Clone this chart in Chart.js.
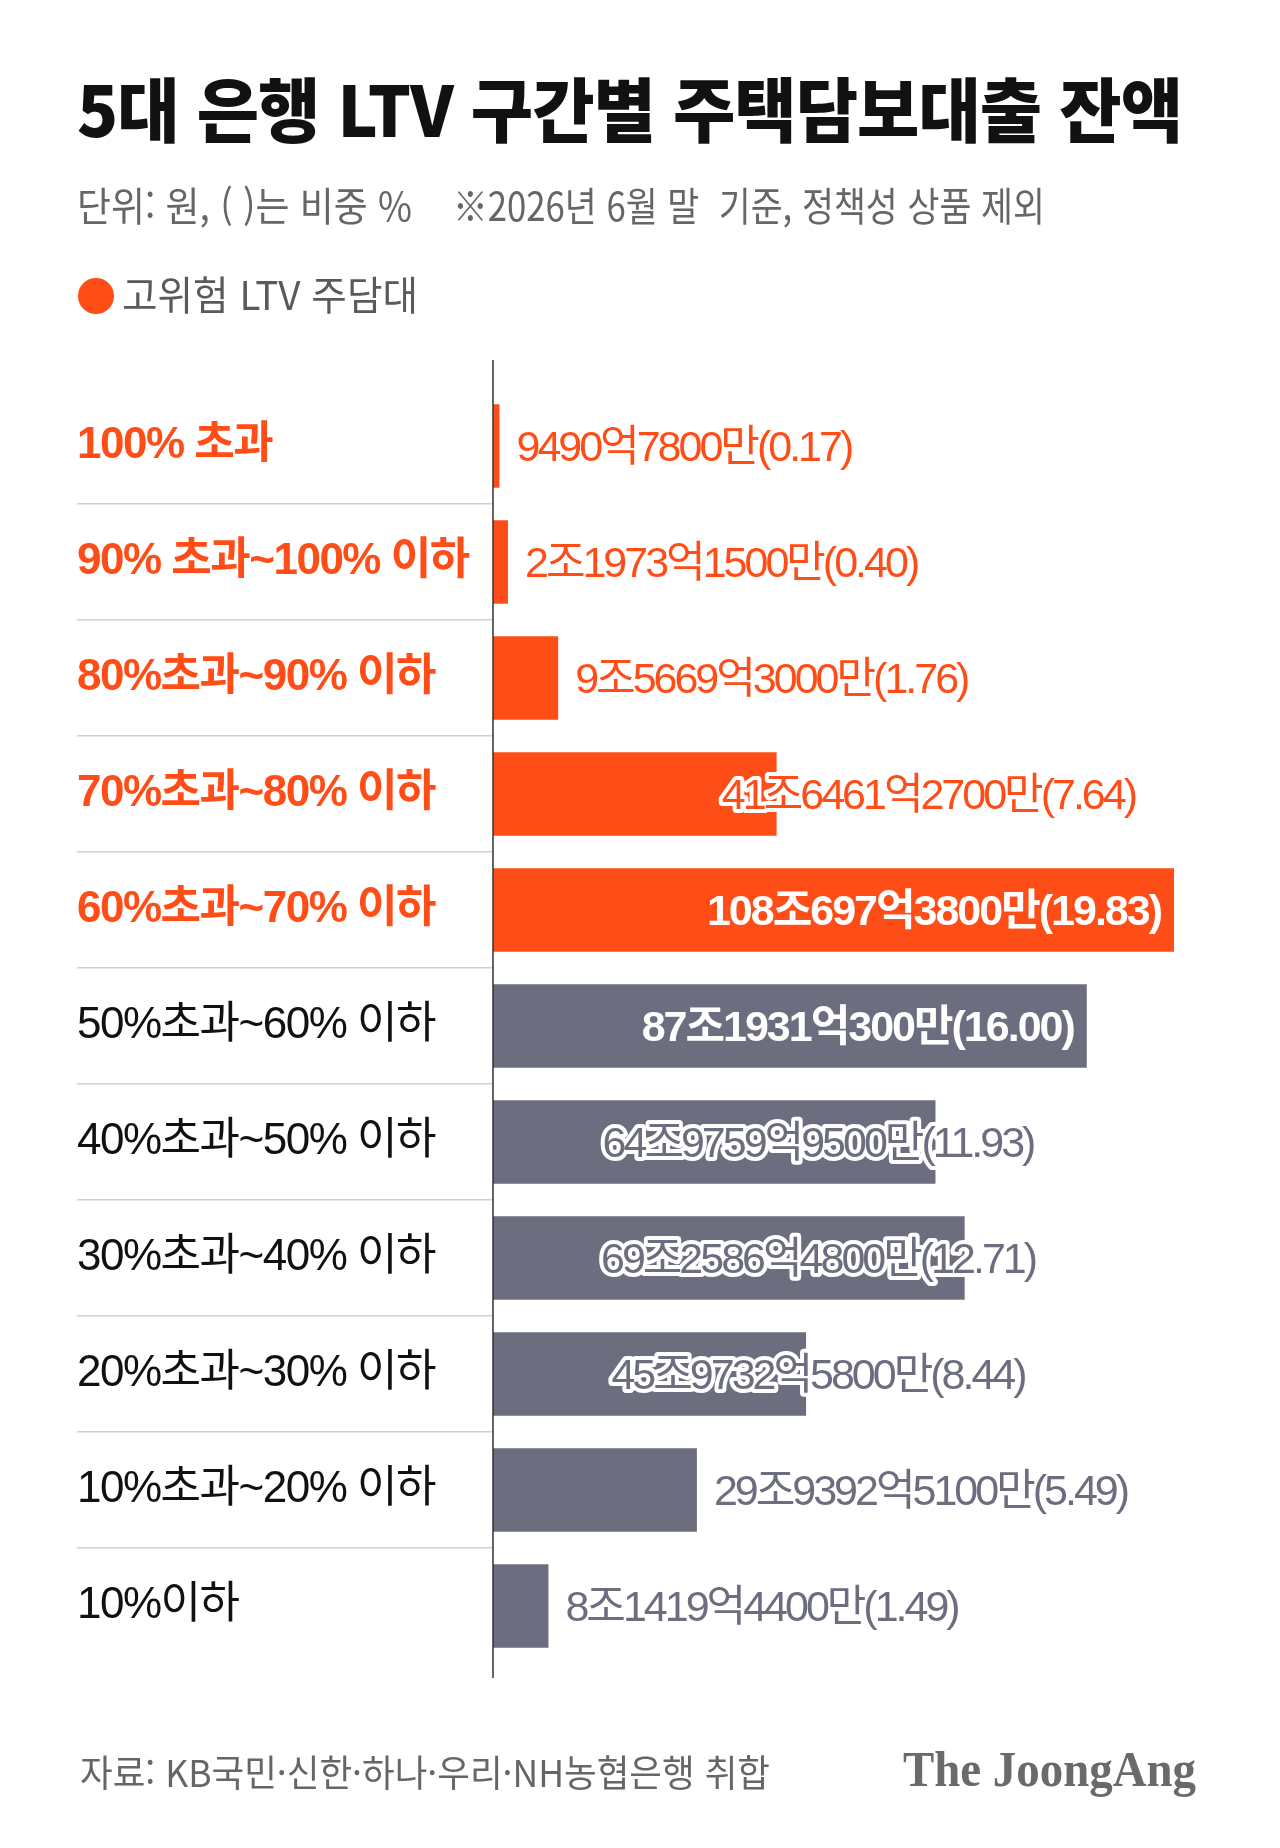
<!DOCTYPE html>
<html lang="ko">
<head>
<meta charset="utf-8">
<title>5대 은행 LTV 구간별 주택담보대출 잔액</title>
<script src="https://cdn.jsdelivr.net/npm/chart.js@4.4.1/dist/chart.umd.min.js"></script>
<style>
  html, body { margin: 0; padding: 0; background: #fff; }
  body { width: 1280px; height: 1848px; position: relative; overflow: hidden;
         font-family: "Noto Sans CJK KR", "Liberation Sans", sans-serif; }
  #wrap { position: absolute; left: 0; top: 0; width: 1280px; height: 1848px; }
  .txt { position: absolute; white-space: nowrap; line-height: 1; transform-origin: left top; }
  #title { left: 77px; top: 72px; font-size: 70px; font-weight: 900; color: #111; letter-spacing: -1px; }
  #sub1 { left: 77px; top: 184px; font-size: 40px; color: #666; }
  #sub2 { left: 453px; top: 184px; font-size: 40px; color: #666; }
  #legDot { position: absolute; left: 78px; top: 278px; width: 36px; height: 36px; border-radius: 50%; background: #ff4d17; }
  #legTxt { left: 122px; top: 273px; font-size: 40px; color: #5a5a5a; }
  #source { left: 80px; top: 1753px; font-size: 37px; color: #666; }
  #logo { left: 903px; top: 1744px; font-size: 51px; font-weight: bold; color: #6a6a6a;
          font-family: "Liberation Serif", "DejaVu Serif", serif; }
</style>
</head>
<body>
<div id="wrap"><canvas id="chart"></canvas></div>
<div class="txt" id="title" data-w="1105">5대 은행 LTV 구간별 주택담보대출 잔액</div>
<div class="txt" id="sub1" data-w="335">단위: 원, ( )는 비중 %</div>
<div class="txt" id="sub2" data-w="592">※2026년 6월 말&nbsp; 기준, 정책성 상품 제외</div>
<div id="legDot"></div>
<div class="txt" id="legTxt" data-w="296">고위험 LTV 주담대</div>
<div class="txt" id="source" data-w="690">자료: KB국민·신한·하나·우리·NH농협은행 취합</div>
<div class="txt" id="logo" data-w="293">The JoongAng</div>

<script>
// LTV 구간
const categories = [
  '100% 초과', '90% 초과~100% 이하', '80%초과~90% 이하', '70%초과~80% 이하',
  '60%초과~70% 이하', '50%초과~60% 이하', '40%초과~50% 이하', '30%초과~40% 이하',
  '20%초과~30% 이하', '10%초과~20% 이하', '10%이하'
];
// 잔액 (만원 단위)
const amountMan = [
  94907800, 219731500, 956693000, 4164612700,
  10806973800, 8719310300, 6497599500, 6925864800,
  4597325800, 2993925100, 814194400
];
// 비중 (%)
const shares = [0.17, 0.40, 1.76, 7.64, 19.83, 16.00, 11.93, 12.71, 8.44, 5.49, 1.49];
// 고위험 LTV 주담대 여부
const highRisk = [true, true, true, true, true, false, false, false, false, false, false];

const ORANGE = '#ff4d17';
const GREY = '#6c6e80';
const FONT = '"Liberation Sans", "Noto Sans CJK KR", sans-serif';

// 조 단위 값 (막대 길이)
const amountJo = amountMan.map(v => v / 1e8);

function fmtAmount(man) {
  const jo = Math.floor(man / 1e8);
  const eok = Math.floor((man % 1e8) / 1e4);
  const m = man % 1e4;
  return (jo ? jo + '조' : '') + (eok ? eok + '억' : '') + (m ? m + '만' : '');
}

// 텍스트 폭 맞추기
document.querySelectorAll('.txt[data-w]').forEach(el => {
  const w = el.getBoundingClientRect().width;
  el.style.transform = `scaleX(${(+el.dataset.w / w).toFixed(4)})`;
});

// ============================
//     라벨 / 축선 플러그인
// ============================

const spacing = {
  id: 'spacing',
  beforeDraw(chart) { chart.ctx.letterSpacing = '-1.5px'; },
  afterDraw(chart) { chart.ctx.letterSpacing = '0px'; }
};

const axisLine = {
  id: 'axisLine',
  afterDatasetsDraw(chart) {
    const { ctx, chartArea } = chart;
    const x = chart.scales.x.getPixelForValue(0);
    ctx.save();
    ctx.strokeStyle = '#333';
    ctx.lineWidth = 1.5;
    ctx.beginPath();
    ctx.moveTo(x, chartArea.top - 28);
    ctx.lineTo(x, chartArea.bottom + 14);
    ctx.stroke();
    ctx.restore();
  }
};

const valueLabels = {
  id: 'valueLabels',
  afterDatasetsDraw(chart) {
    const { ctx, chartArea } = chart;
    const meta = chart.getDatasetMeta(0);
    const limit = 1135;
    meta.data.forEach((bar, i) => {
      const text = fmtAmount(amountMan[i]) + '(' + shares[i].toFixed(2) + ')';
      const color = highRisk[i] ? ORANGE : GREY;
      const end = Math.min(bar.x, chartArea.right);
      const y = bar.y + 15;
      ctx.save();
      ctx.textBaseline = 'alphabetic';
      ctx.textAlign = 'left';
      ctx.letterSpacing = '-3px';
      ctx.font = '43px ' + FONT;
      let w = ctx.measureText(text).width;
      if (end + 17 + w <= limit) {
        ctx.fillStyle = color;
        ctx.fillText(text, end + 17, y);
      } else {
        ctx.font = 'bold 43px ' + FONT;
        ctx.letterSpacing = '-2px';
        const wb = ctx.measureText(text).width;
        if (wb + 26 <= end - bar.base) {
          ctx.fillStyle = '#fff';
          ctx.fillText(text, end - 13 - wb, y);
        } else {
          // 막대에 걸치는 라벨: 흰 테두리
          ctx.font = '43px ' + FONT;
          ctx.letterSpacing = '-3px';
          const x = highRisk[i] ? limit - w : 818 - w / 2;
          ctx.lineJoin = 'round';
          ctx.lineWidth = 8;
          ctx.strokeStyle = '#fff';
          ctx.strokeText(text, x, y);
          ctx.fillStyle = color;
          ctx.fillText(text, x, y);
        }
      }
      ctx.restore();
    });
  }
};

// ============================
//          차트
// ============================

new Chart(document.getElementById('chart'), {
  type: 'bar',
  data: {
    labels: categories,
    datasets: [{
      data: amountJo,
      backgroundColor: highRisk.map(h => h ? ORANGE : GREY),
      borderWidth: 0,
      barPercentage: 0.72,
      categoryPercentage: 1,
      clip: 0
    }]
  },
  options: {
    indexAxis: 'y',
    responsive: true,
    maintainAspectRatio: false,
    animation: false,
    layout: { padding: { left: 77, right: 106, top: 388, bottom: 184 } },
    plugins: {
      legend: { display: false },
      tooltip: { enabled: false }
    },
    scales: {
      x: { display: false, min: 0, max: 100 },
      y: {
        afterFit(scale) { scale.width = 416; },
        border: { display: false },
        grid: {
          drawOnChartArea: false,
          drawTicks: true,
          tickLength: 416,
          lineWidth: 1.5,
          color: c => (c.index > 0 && c.index < categories.length) ? '#d0d0d0' : 'rgba(0,0,0,0)'
        },
        ticks: {
          autoSkip: false,
          crossAlign: 'far',
          padding: 0,
          color: c => highRisk[c.index] ? ORANGE : '#111',
          font: c => ({ family: FONT, size: 44, weight: highRisk[c.index] ? 'bold' : 'normal' })
        }
      }
    }
  },
  plugins: [spacing, axisLine, valueLabels]
});
</script>
</body>
</html>
